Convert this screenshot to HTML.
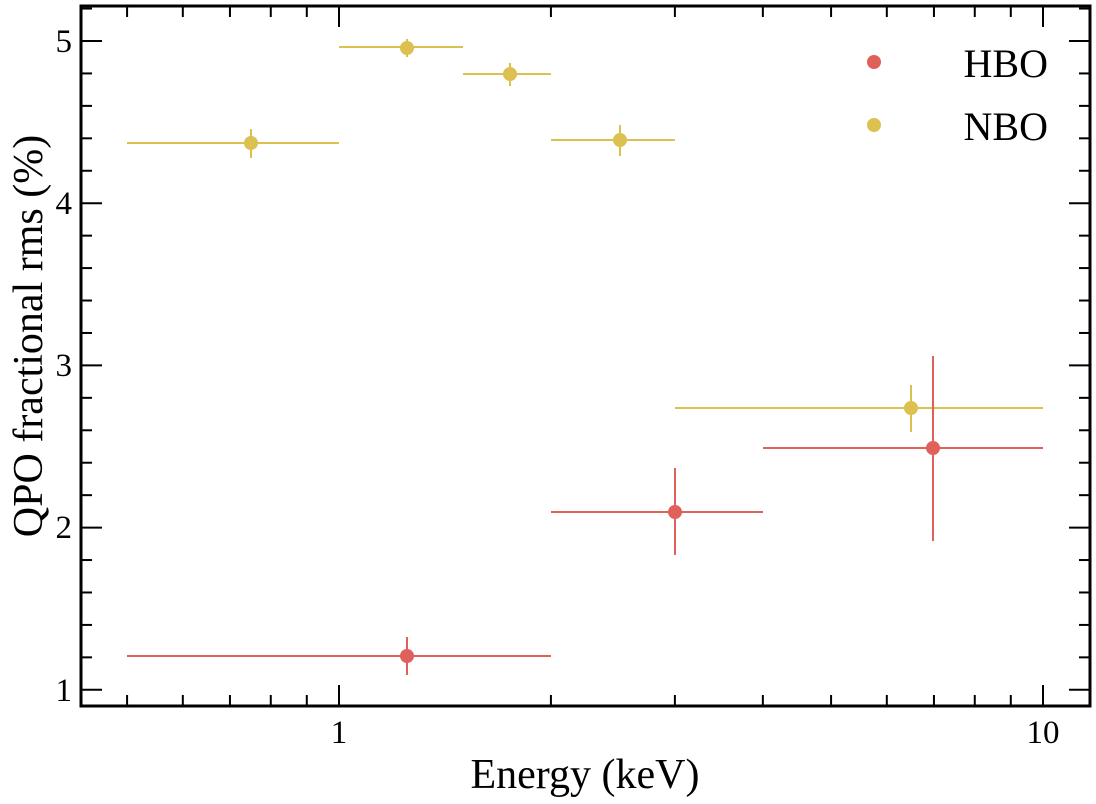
<!DOCTYPE html>
<html><head><style>body{margin:0;background:#fff}svg{display:block}</style></head><body>
<svg width="1096" height="804" xmlns="http://www.w3.org/2000/svg" font-family="Liberation Serif, serif">
<g id="ticks" stroke="#000" stroke-width="2">
</g>
<script>
const g=document.getElementById('ticks');const ns='http://www.w3.org/2000/svg';
function L(x1,y1,x2,y2){const l=document.createElementNS(ns,'line');l.setAttribute('x1',x1);l.setAttribute('y1',y1);l.setAttribute('x2',x2);l.setAttribute('y2',y2);g.appendChild(l);}
const X=v=>339+704*Math.log10(v), Y=v=>41+(5-v)*162.2;
for(let i=5;i<=26;i++){const v=i/5;const y=Y(v);if(y<8||y>704)continue;const maj=(i%5===0);const len=maj?21:11;L(81,y,81+len,y);L(1090,y,1090-len,y);}
[0.5,0.6,0.7,0.8,0.9,2,3,4,5,6,7,8,9].forEach(v=>{const x=X(v);L(x,706,x,695);L(x,6,x,17);});
[1,10].forEach(v=>{const x=X(v);L(x,706,x,685);L(x,6,x,27);});
</script>
<rect x="81" y="6" width="1009" height="700" fill="none" stroke="#000" stroke-width="3"/>
<g stroke="#dcc050" stroke-width="2" fill="#dcc050">
<line x1="127" y1="143" x2="339" y2="143"/><line x1="251" y1="129" x2="251" y2="158"/><circle cx="251" cy="143" r="6"/>
<line x1="339" y1="47" x2="463" y2="47"/><line x1="407" y1="39" x2="407" y2="57"/><circle cx="407" cy="48" r="6"/>
<line x1="463" y1="74" x2="551" y2="74"/><line x1="510" y1="63" x2="510" y2="86"/><circle cx="510" cy="74" r="6"/>
<line x1="551" y1="140" x2="675" y2="140"/><line x1="620" y1="125" x2="620" y2="156"/><circle cx="620" cy="140" r="6"/>
<line x1="675" y1="408" x2="1043" y2="408"/><line x1="911" y1="385" x2="911" y2="432"/><circle cx="911" cy="408" r="6"/>
<circle cx="874" cy="125" r="6"/>
</g>
<g stroke="#e0605a" stroke-width="2" fill="#e0605a">
<line x1="127" y1="656" x2="551" y2="656"/><line x1="407" y1="637" x2="407" y2="675"/><circle cx="407" cy="656" r="6"/>
<line x1="551" y1="512" x2="763" y2="512"/><line x1="675" y1="468" x2="675" y2="555"/><circle cx="675" cy="512" r="6"/>
<line x1="763" y1="448" x2="1043" y2="448"/><line x1="933" y1="356" x2="933" y2="541"/><circle cx="933" cy="448" r="6"/>
<circle cx="874" cy="62" r="6"/>
</g>
<g font-size="33" fill="#000">
<text x="1048" y="77" text-anchor="end" font-size="40">HBO</text>
<text x="1048" y="140" text-anchor="end" font-size="40">NBO</text>
<g text-anchor="end"><text x="72" y="52">5</text><text x="72" y="214">4</text><text x="72" y="376">3</text><text x="72" y="538">2</text><text x="72" y="701">1</text></g>
<text x="339" y="743" text-anchor="middle">1</text><text x="1043" y="743" text-anchor="middle">10</text>
<text x="585" y="788" text-anchor="middle" font-size="42">Energy (keV)</text>
<text transform="translate(42,336) rotate(-90)" text-anchor="middle" font-size="42">QPO fractional rms (%)</text>
</g>
</svg>
</body></html>
